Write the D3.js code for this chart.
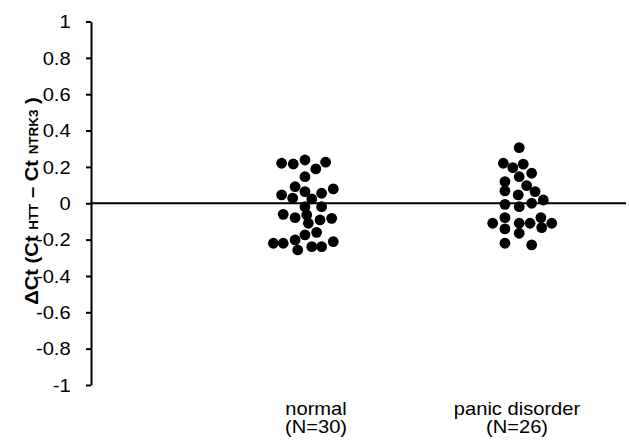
<!DOCTYPE html>
<html><head><meta charset="utf-8">
<script src="https://cdn.jsdelivr.net/npm/d3@7"></script>
<style>body{margin:0;background:#fff;}svg{display:block;}text{font-family:"Liberation Sans",Arial,sans-serif;}</style>
</head><body><svg id="c" width="629" height="442"></svg>
<script>
const categories = ["normal", "panic disorder"];
const categoryCounts = ["(N=30)", "(N=26)"];
const yTicks = [1, 0.8, 0.6, 0.4, 0.2, 0, -0.2, -0.4, -0.6, -0.8, -1];
const yTickLabels = ["1","0.8","0.6","0.4","0.2","0","-0.2","-0.4","-0.6","-0.8","-1"];
const normalValues = [0.220,0.216,0.238,0.189,0.226,0.146,0.091,0.046,0.028,0.064,0.055,0.079,0.024,-0.019,-0.019,-0.061,-0.079,-0.064,-0.092,-0.083,-0.110,-0.160,-0.174,-0.202,-0.220,-0.220,-0.257,-0.239,-0.239,-0.211];
const normalJitter = [-0.171,-0.113,-0.055,-0.001,0.048,-0.055,-0.104,-0.171,-0.116,-0.055,0.028,0.086,-0.021,-0.055,0.028,-0.163,-0.104,-0.046,0.020,0.078,-0.038,0.003,-0.055,-0.104,-0.212,-0.163,-0.091,-0.021,0.028,0.086];
const panicValues = [0.306,0.220,0.196,0.215,0.165,0.146,0.119,0.097,0.068,0.046,0.064,0.018,-0.006,-0.019,0.000,-0.079,-0.110,-0.141,-0.110,-0.165,-0.110,-0.079,-0.134,-0.110,-0.220,-0.229];
const panicJitter = [0.011,-0.068,-0.021,0.031,0.073,0.011,-0.060,0.048,-0.060,0.006,0.090,0.131,-0.060,0.011,0.073,-0.060,-0.121,-0.060,0.011,0.011,0.065,0.119,0.123,0.173,-0.060,0.073];

const svg = d3.select("#c");
const SX = 1.15;
const y = d3.scaleLinear().domain([-1, 1]).range([385, 21.5]);
const x = d3.scaleLinear().domain([1, 2]).range([316, 517]);
const axisX = 91;

// zero line
svg.append("line").attr("x1", axisX).attr("x2", 626).attr("y1", y(0)).attr("y2", y(0))
  .attr("stroke", "#000").attr("stroke-width", 2.2);

// y axis
const ax = svg.append("g").attr("transform", `translate(${axisX},0)`)
  .call(d3.axisLeft(y).tickValues(yTicks).tickFormat((d,i)=>yTickLabels[i]).tickSize(5).tickSizeOuter(0));
ax.select(".domain").attr("stroke", "#000").attr("stroke-width", 2);
ax.selectAll(".tick line").attr("stroke", "#000").attr("stroke-width", 2);
ax.selectAll(".tick text").attr("x", -16).attr("dy", "0.36em")
  .attr("font-size", 17.5).attr("fill", "#000")
  .attr("transform", `translate(-2,0) scale(${SX},1)`)
  .style("font-family", '"Liberation Sans",Arial,sans-serif');

// points
const groups = [
  {vals: normalValues, jit: normalJitter, idx: 1},
  {vals: panicValues, jit: panicJitter, idx: 2}
];
groups.forEach(g => {
  svg.append("g").selectAll("circle").data(g.vals).join("circle")
    .attr("cx", (d,i) => x(g.idx + g.jit[i]))
    .attr("cy", d => y(d))
    .attr("r", 5.4).attr("fill", "#000");
});

// x labels
categories.forEach((c, i) => {
  const t = svg.append("g").attr("transform", `translate(${x(i+1)},0) scale(${SX},1)`);
  t.append("text").attr("x", 0).attr("y", 415).attr("text-anchor", "middle")
    .attr("font-size", 17.5).text(c);
  t.append("text").attr("x", 0).attr("y", 433).attr("text-anchor", "middle")
    .attr("font-size", 17.5).text(categoryCounts[i]);
});

// y title
const tt = svg.append("g").attr("transform", "translate(38,201) rotate(-90) scale(1.12,1)")
  .append("text").attr("text-anchor", "middle").attr("font-weight", "bold").attr("font-size", 18);
tt.append("tspan").text("\u0394Ct (Ct ");
tt.append("tspan").attr("font-size", 12).text("HTT");
tt.append("tspan").text(" \u2013 Ct ");
tt.append("tspan").attr("font-size", 12).text("NTRK3");
tt.append("tspan").text(" )");
</script></body></html>
